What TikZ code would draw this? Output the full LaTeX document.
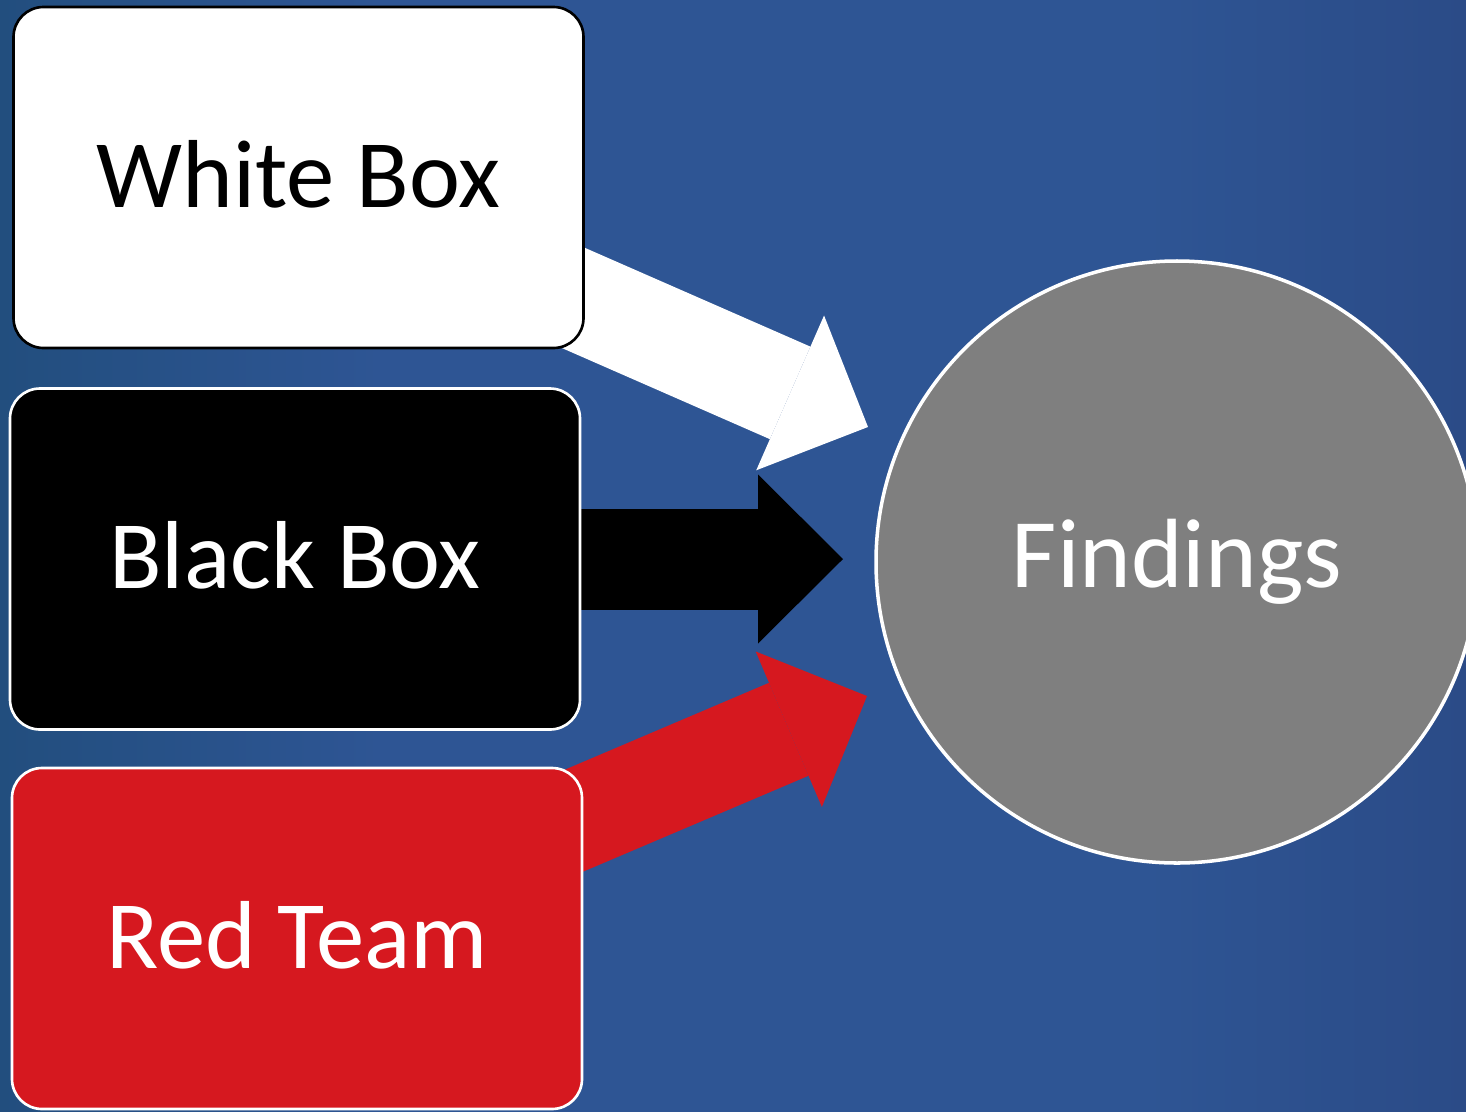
\documentclass[tikz,border=0pt]{standalone}
\usepackage{fontspec}
\setmainfont{Carlito}
\usetikzlibrary{arrows.meta,backgrounds}

\definecolor{bgleft}{HTML}{224E7E}
\definecolor{bgmid}{HTML}{2E5594}
\definecolor{bgright}{HTML}{2B4B87}
\definecolor{teamred}{HTML}{D6181F}
\definecolor{findgray}{HTML}{7F7F7F}
% slide backdrop: dark at the left edge, flat blue across the middle
\pgfdeclarehorizontalshading{slide}{100bp}{color(0bp)=(bgleft); color(25bp)=(bgleft);
  color(38bp)=(bgmid); color(64bp)=(bgmid); color(75bp)=(bgright); color(100bp)=(bgright)}

\begin{document}
\begin{tikzpicture}[
  box/.style={rectangle,rounded corners=3mm,minimum width=5.7cm,
    minimum height=3.41cm,line width=0.75pt,text height=17pt,text depth=0pt,
    font=\fontsize{27.5}{33}\selectfont},
  flow/.style={line width=1.01cm,
    -{Triangle[length=8.5mm,width=16.9mm,line width=0pt]}}]
  \useasboundingbox (0,0) rectangle (14.66,-11.11);
  \node[box,draw=black,fill=white,text=black] (whitebox) at (2.985,-1.775) {White Box};
  \node[box,draw=white,fill=black,text=white] (blackbox) at (2.95,-5.59) {Black Box};
  \node[box,draw=white,fill=teamred,text=white] (redteam) at (2.97,-9.385) {Red Team};
  \node[circle,draw=white,line width=1pt,fill=findgray,text=white,
    minimum size=6.02cm,font=\fontsize{28}{33}\selectfont] (findings) at (11.77,-5.62) {Findings};
  % arrow tips just short of the circle
  \coordinate (tipW) at (8.68,-4.27);
  \coordinate (tipB) at (8.43,-5.59);
  \coordinate (tipR) at (8.67,-6.96);
  \begin{scope}[on background layer]
    \shade[shading=slide] (0,0) rectangle (14.66,-11.11);
    \draw[flow,white] (whitebox.center) -- (tipW);
    \draw[flow,black] (blackbox.center) -- (tipB);
    \draw[flow,teamred] (redteam.center) -- (tipR);
  \end{scope}
\end{tikzpicture}
\end{document}
